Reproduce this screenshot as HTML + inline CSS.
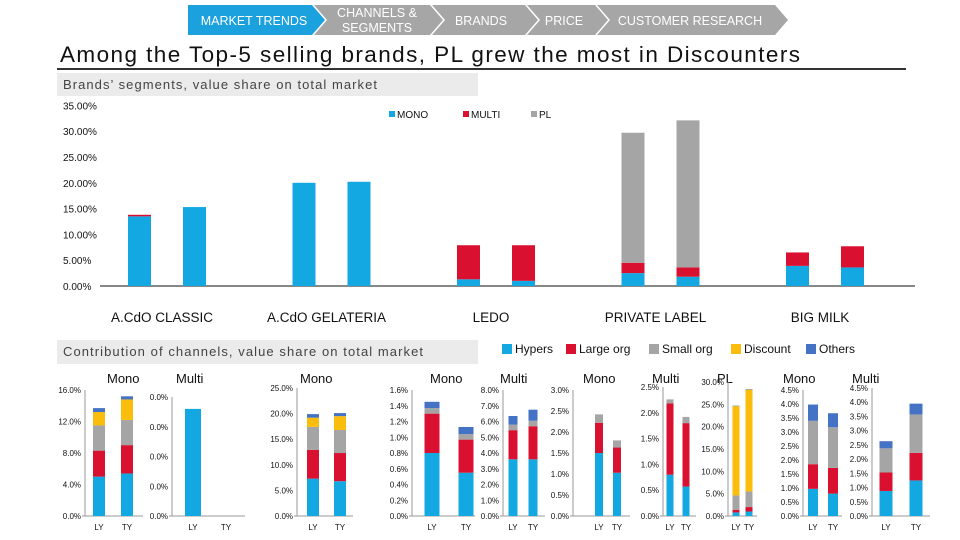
<!DOCTYPE html>
<html><head><meta charset="utf-8">
<style>
body{margin:0;background:#fff;}
svg{display:block;font-family:"Liberation Sans",sans-serif;}
</style></head>
<body>
<svg id="c" width="960" height="540" viewBox="0 0 960 540">
<g>
 <polygon points="188,5 312,5 325,20 312,35 188,35" fill="#1ba1dd"/>
 <polygon points="314,5 430,5 443,20 430,35 314,35 327,20" fill="#a6a6a6"/>
 <polygon points="432,5 525,5 538,20 525,35 432,35 445,20" fill="#a6a6a6"/>
 <polygon points="527,5 595,5 608,20 595,35 527,35 540,20" fill="#a6a6a6"/>
 <polygon points="597,5 775,5 788,20 775,35 597,35 610,20" fill="#a6a6a6"/>
 <g fill="#fff" font-size="12.5" text-anchor="middle">
  <text x="254" y="25">MARKET TRENDS</text>
  <text x="377" y="17">CHANNELS &amp;</text><text x="377" y="32">SEGMENTS</text>
  <text x="481" y="25">BRANDS</text>
  <text x="564" y="25">PRICE</text>
  <text x="690" y="25">CUSTOMER RESEARCH</text>
 </g>
</g>
<text x="60" y="62" font-size="22.5" fill="#111" textLength="740" lengthAdjust="spacing">Among the Top-5 selling brands, PL grew the most in Discounters</text>
<rect x="57" y="68" width="849" height="2" fill="#333"/>
<rect x="57" y="73" width="421" height="23" fill="#ebebeb"/>
<text x="63" y="89" font-size="13" fill="#444" textLength="314" lengthAdjust="spacing">Brands’ segments, value share on total market</text>
<rect x="57" y="340" width="421" height="24" fill="#ebebeb"/>
<text x="63" y="356" font-size="13" fill="#444" textLength="360" lengthAdjust="spacing">Contribution of channels, value share on total market</text>
<g id="topchart"></g>
<g id="bottom"></g>
</svg>
<script>
// ---- top chart data ----
const brands = ["A.CdO CLASSIC","A.CdO GELATERIA","LEDO","PRIVATE LABEL","BIG MILK"];
const monoLY = [13.5, 20.0, 1.3, 2.5, 3.9];
const monoTY = [15.3, 20.2, 1.0, 1.8, 3.6];
const multiLY = [0.3, 0, 6.6, 2.0, 2.6];
const multiTY = [0, 0, 6.9, 1.8, 4.1];
const plLY = [0, 0, 0, 25.2, 0];
const plTY = [0, 0, 0, 28.5, 0];
const topTicks = [0,5,10,15,20,25,30,35];
const segNames = ["MONO","MULTI","PL"];

// ---- bottom panels data (stack order: Hypers, Large org, Small org, Discount, Others) ----
const channelNames = ["Hypers","Large org","Small org","Discount","Others"];
const p1LY=[5.0,3.3,3.2,1.7,0.5], p1TY=[5.4,3.6,3.2,2.6,0.4];
const p2LY=[0.0036,0,0,0,0], p2TY=[0,0,0,0,0];
const p3LY=[7.3,5.6,4.5,1.8,0.7], p3TY=[6.8,5.5,4.5,2.7,0.6];
const p4LY=[0.80,0.50,0.07,0,0.08], p4TY=[0.55,0.42,0.07,0,0.09];
const p5LY=[3.6,1.85,0.35,0,0.55], p5TY=[3.6,2.1,0.35,0,0.7];
const p6LY=[1.5,0.72,0.2,0,0], p6TY=[1.03,0.6,0.17,0,0];
const p7LY=[0.8,1.38,0.08,0,0], p7TY=[0.57,1.23,0.12,0,0];
const p8LY=[0.8,0.6,3.2,20.0,0.1], p8TY=[1.0,1.0,3.5,22.8,0.1];
const p9LY=[0.97,0.88,1.55,0,0.58], p9TY=[0.8,0.92,1.45,0,0.5];
const p10LY=[0.88,0.65,0.85,0,0.25], p10TY=[1.25,0.97,1.35,0,0.38];
const p1Ticks=[0,4,8,12,16], p2Ticks=[0,0.001,0.002,0.003,0.004], p3Ticks=[0,5,10,15,20,25];
const p4Ticks=[0,0.2,0.4,0.6,0.8,1.0,1.2,1.4,1.6], p5Ticks=[0,1,2,3,4,5,6,7,8];
const p6Ticks=[0,0.5,1.0,1.5,2.0,2.5,3.0], p7Ticks=[0,0.5,1.0,1.5,2.0,2.5];
const p8Ticks=[0,5,10,15,20,25,30], p9Ticks=[0,0.5,1,1.5,2,2.5,3,3.5,4,4.5];

const NS="http://www.w3.org/2000/svg";
function mk(tag, attrs, parent){const e=document.createElementNS(NS,tag);for(const k in attrs)e.setAttribute(k,attrs[k]);parent.appendChild(e);return e;}
const segCol=["#14a8e3","#d9102f","#a5a5a5"];
const chCol=["#14a8e3","#d9102f","#a5a5a5","#fbbd0b","#4472c4"];

// ---- top chart ----
const topG=document.getElementById('topchart');
const y0=286, yPer=5.16;
function tyS(v){return y0-v*yPer;}
topTicks.forEach(t=>{
 const tx=mk('text',{x:63,y:tyS(t)+4,'font-size':10,fill:'#111'},topG);
 
 
 tx.textContent=t.toFixed(2)+'%';
});
const ax=mk('line',{x1:100,x2:915,y1:y0,y2:y0,stroke:'#111','stroke-width':1},topG);


const groupW=164.5, gx0=162;
brands.forEach((b,i)=>{
 const cx=gx0+i*groupW;
 const yrs=[[monoLY[i],multiLY[i],plLY[i]],[monoTY[i],multiTY[i],plTY[i]]];
 yrs.forEach((vals,j)=>{
  const bx=cx+(j===0?-22:33)-12;
  let acc=0;
  vals.forEach((v,k)=>{
   if(v<=0)return;
   const r=mk('rect',{x:bx,y:tyS(acc+v),width:23,height:v*yPer,fill:segCol[k]},topG);
   
   
   acc+=v;
  });
 });
 const l=mk('text',{x:cx,y:322,'font-size':13.5,'text-anchor':'middle',fill:'#111'},topG);
 
 
 l.textContent=b;
});
const legX=[389,463,531];
segNames.forEach((s,k)=>{
 const r=mk('rect',{x:legX[k],y:111,width:6,height:6,fill:segCol[k]},topG);
 
 
 const t=mk('text',{x:legX[k]+8,y:118,'font-size':10,fill:'#111'},topG);
 
 
 t.textContent=s;
});

// ---- bottom legend ----
const bot=document.getElementById('bottom');
const clX=[502,566,649,731,806];
channelNames.forEach((c,k)=>{
 const r=mk('rect',{x:clX[k],y:344,width:10,height:10,fill:chCol[k]},bot);
 
 
 const t=mk('text',{x:clX[k]+13,y:353,'font-size':12,fill:'#111'},bot);
 
 
 t.textContent=c;
});

// ---- bottom panels ----
const panels=[
 {title:"Mono",tx:107,ax:85,top:390,ticks:p1Ticks,dec:1,ly:p1LY,ty:p1TY,cl:99,ct:127,w:12,ex:143},
 {title:"Multi",tx:176,ax:172,top:397,ticks:p2Ticks,dec:1,ly:p2LY,ty:p2TY,cl:193,ct:226,w:16,ex:245},
 {title:"Mono",tx:300,ax:297,top:388,ticks:p3Ticks,dec:1,ly:p3LY,ty:p3TY,cl:313,ct:340,w:12,ex:353},
 {title:"Mono",tx:430,ax:412,top:390,ticks:p4Ticks,dec:1,ly:p4LY,ty:p4TY,cl:432,ct:466,w:15,ex:475},
 {title:"Multi",tx:500,ax:503,top:390,ticks:p5Ticks,dec:1,ly:p5LY,ty:p5TY,cl:513,ct:533,w:9,ex:545},
 {title:"Mono",tx:583,ax:573,top:390,ticks:p6Ticks,dec:1,ly:p6LY,ty:p6TY,cl:599,ct:617,w:8,ex:630},
 {title:"Multi",tx:652,ax:663,top:387,ticks:p7Ticks,dec:1,ly:p7LY,ty:p7TY,cl:670,ct:686,w:7,ex:696},
 {title:"PL",tx:717,ax:728,top:382,ticks:p8Ticks,dec:1,ly:p8LY,ty:p8TY,cl:736,ct:749,w:7,ex:757},
 {title:"Mono",tx:783,ax:803,top:390,ticks:p9Ticks,dec:1,ly:p9LY,ty:p9TY,cl:813,ct:833,w:10,ex:842},
 {title:"Multi",tx:852,ax:872,top:388,ticks:p9Ticks,dec:1,ly:p10LY,ty:p10TY,cl:886,ct:916,w:13,ex:930}
];
panels.forEach((p,pi)=>{
 const g=mk('g',{},bot);
 
 
 const base=516, max=p.ticks[p.ticks.length-1];
 const sy=v=>base-(v/max)*(base-p.top);
 const t=mk('text',{x:p.tx,y:383,'font-size':13,fill:'#111'},g);
 
 
 t.textContent=p.title;
 const yl=mk('line',{x1:p.ax,x2:p.ax,y1:p.top,y2:base,stroke:'#999'},g);
 
 
 const xl=mk('line',{x1:p.ax-3,x2:p.ex,y1:base,y2:base,stroke:'#999'},g);
 
 
 p.ticks.forEach(tk=>{
  const l=mk('text',{x:p.ax-4,y:sy(tk)+3,'font-size':8,'text-anchor':'end',fill:'#111'},g);
  
  
  l.textContent=tk.toFixed(p.dec)+'%';
 });
 [[p.ly,p.cl,'LY'],[p.ty,p.ct,'TY']].forEach(([vals,cx,lab])=>{
  let acc=0;
  vals.forEach((v,k)=>{
   if(v<=0)return;
   const r=mk('rect',{x:cx-p.w/2,y:sy(acc+v),width:p.w,height:sy(acc)-sy(acc+v),fill:chCol[k]},g);
   
   
   acc+=v;
  });
  const tl=mk('text',{x:cx,y:530,'font-size':8,'text-anchor':'middle',fill:'#111'},g);
  
  
  tl.textContent=lab;
 });
});
</script>
</body></html>
